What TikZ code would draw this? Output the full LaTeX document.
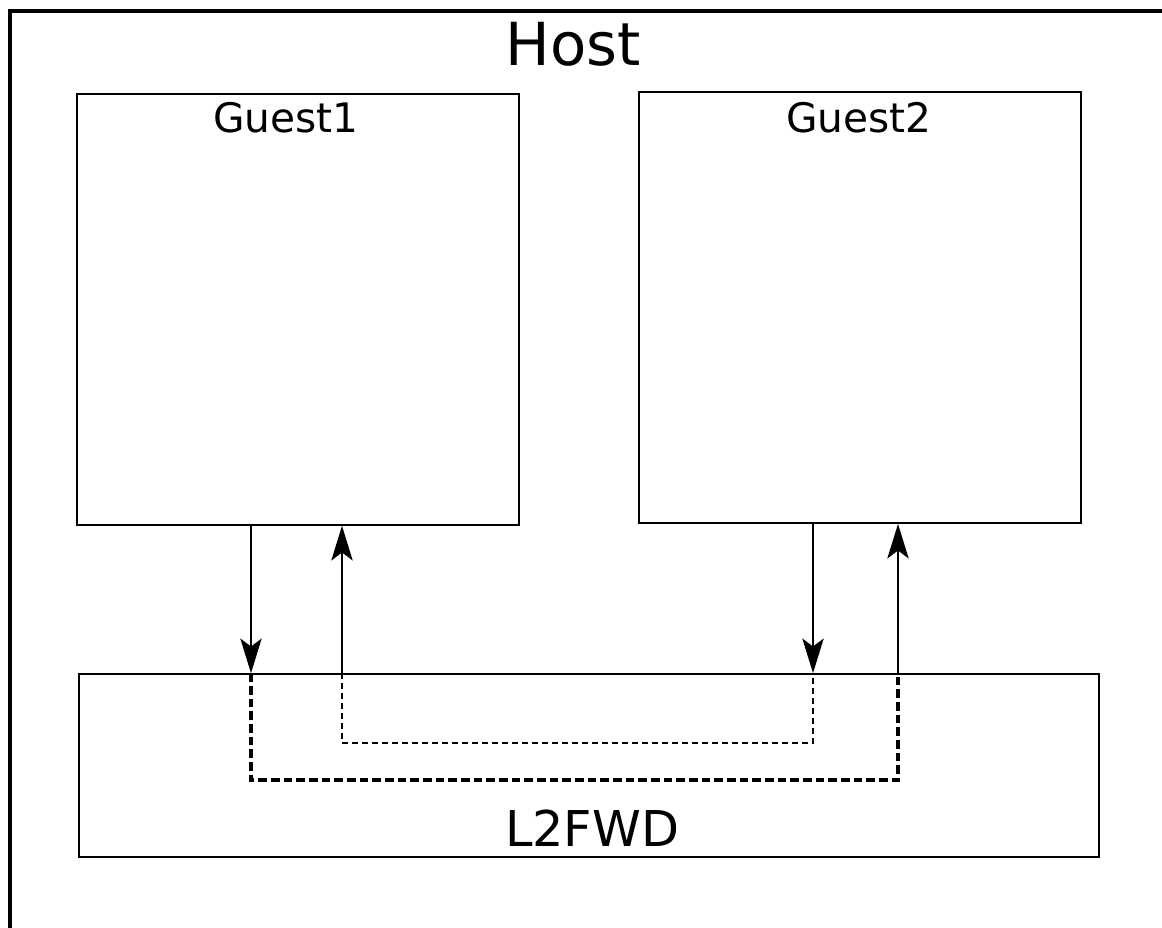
\documentclass[tikz,border=0pt]{standalone}
\usepackage{fontspec}
\setmainfont{DejaVu Sans}
\usepackage{tikz}
\usetikzlibrary{arrows.meta,positioning,calc}
\tikzset{
  hostframe/.style={draw=black, line width=3pt},
  guestbox/.style ={rectangle, draw=black, line width=1.5pt, fill=white,
                    minimum width=331.5pt, minimum height=323pt, inner sep=0pt},
  fwdbox/.style   ={rectangle, draw=black, line width=1.5pt, fill=white,
                    minimum width=765pt, minimum height=137pt, inner sep=0pt},
  hostlbl/.style  ={font=\fontsize{44.5}{52}\selectfont, inner sep=0pt},
  guestlbl/.style ={font=\fontsize{30.5}{36}\selectfont, inner sep=0pt, anchor=base},
  fwdlbl/.style   ={font=\fontsize{37}{44}\selectfont, inner sep=0pt, anchor=base},
  flow/.style     ={-{Stealth[length=26pt, width=16pt, inset=6pt]}, line width=1.5pt},
  pathd/.style    ={dash pattern=on 4.5pt off 3pt, line width=1.5pt},
  pathdd/.style   ={dash pattern=on 6.5pt off 3pt, line width=2.4pt}
}
\begin{document}
\begin{tikzpicture}[x=0.75pt, y=-0.75pt]
\useasboundingbox (0,0) rectangle (1162,927);
\clip (0,0) rectangle (1162,927);

% Host frame (runs off the page to the right and bottom)
\draw[hostframe] (9.5,11) rectangle (1200,960);
\node[hostlbl] (host) at (573,44) {Host};

% Guests
\node[guestbox] (guest1) at (298,309.5) {};
\node[guestlbl] (g1lbl) at (286,133) {Guest1};
\node[guestbox] (guest2) at (860,307.5) {};
\node[guestlbl] (g2lbl) at (859,133) {Guest2};

% Forwarder
\node[fwdbox] (l2fwd) at (589,765.5) {};
\node[fwdlbl] (fwdlbl) at (592,846) {L2FWD};

% Tap points on the forwarder
\coordinate (g1tx) at (251,600);
\coordinate (g1rx) at (342,600);
\coordinate (g2tx) at (813,600);
\coordinate (g2rx) at (898,600);
\coordinate (innerlvl) at (600,743);
\coordinate (outerlvl) at (600,780);

% Guest <-> forwarder
\draw[flow] (guest1.south -| g1tx) -- (l2fwd.north -| g1tx);
\draw[flow] (l2fwd.north -| g1rx) -- (guest1.south -| g1rx);
\draw[flow] (guest2.south -| g2tx) -- (l2fwd.north -| g2tx);
\draw[flow] (l2fwd.north -| g2rx) -- (guest2.south -| g2rx);

% Paths inside the forwarder
\draw[pathd] (l2fwd.north -| g1rx) -- (g1rx |- innerlvl) -- (g2tx |- innerlvl) -- (l2fwd.north -| g2tx);
\draw[pathdd] (l2fwd.north -| g1tx) -- (g1tx |- outerlvl) -- (g2rx |- outerlvl) -- (l2fwd.north -| g2rx);
\end{tikzpicture}
\end{document}
